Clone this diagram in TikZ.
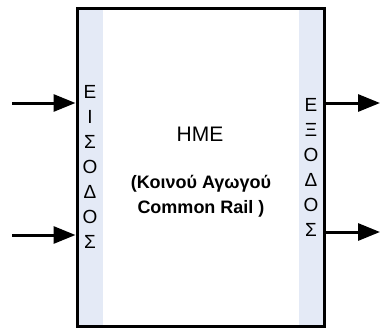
\documentclass[tikz,border=0pt]{standalone}
\usepackage{fontspec}
\setmainfont{Liberation Sans}
\usetikzlibrary{arrows.meta}
\definecolor{stripcol}{RGB}{228,234,246}
\tikzset{>={Triangle[length=22pt,width=17pt]}}
\tikzset{letter/.style = {font=\fontsize{19}{19}\selectfont, inner sep=0pt}}
\tikzset{strip/.style = {fill=stripcol, minimum width=25pt, minimum height=316pt, inner sep=0pt}}
\tikzset{flow/.style = {->, line width=3pt}}

\begin{document}
\begin{tikzpicture}[x=1pt,y=-1pt]
                    \useasboundingbox (0,0) rectangle (382,329);

                    \node[strip] (sl) at (90.5,167.5) {};
                    \node[strip] (sr) at (311,167.5) {};
                    \node[draw, line width=3pt, minimum width=247pt, minimum height=317pt, inner sep=0pt] (block) at (200.5,167.5) {};

                    \foreach \l [count=\i] in {Ε,Ι,Σ,Ο,Δ,Ο,Σ}
                        \node[letter] (li\i) at (90,92+25*\i-25) {\l};
                    \foreach \l [count=\i] in {Ε,Ξ,Ο,Δ,Ο,Σ}
                        \node[letter] (lo\i) at (311,105+25*\i-25) {\l};

                    \node[font=\fontsize{21}{21}\selectfont] (hme) at (200,134) {HME};
                    \node[font=\bfseries\fontsize{18}{25}\selectfont, align=center] (rail) at (201,196) {(Κοινού Αγωγού\\Common Rail )};

                    \coordinate (in1) at (12,103);
                    \coordinate (in2) at (12,235);
                    \coordinate (out1) at (380,103);
                    \coordinate (out2) at (380,232);

                    \draw[flow] (in1) -- (in1 -| block.west);
                    \draw[flow] (in2) -- (in2 -| block.west);
                    \draw[flow] (out1 -| block.east) -- (out1);
                    \draw[flow] (out2 -| block.east) -- (out2);
                \end{tikzpicture}
\end{document}
